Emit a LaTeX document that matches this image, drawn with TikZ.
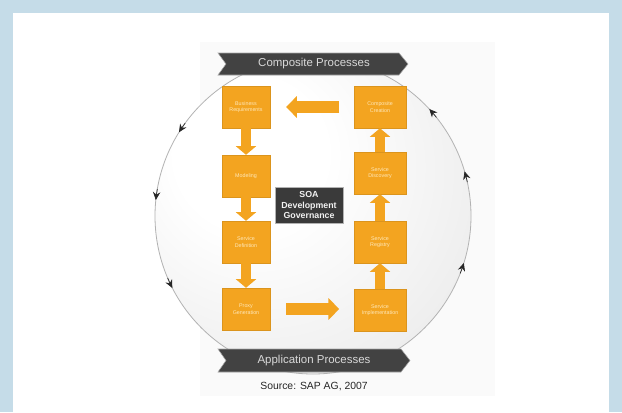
\documentclass[tikz,border=0pt]{standalone}
\usepackage{fontspec}
\setmainfont{Liberation Sans}
\usetikzlibrary{arrows.meta,calc}
\definecolor{bgblue}{RGB}{197,220,232}
\definecolor{diagbg}{RGB}{250,250,250}
\definecolor{orng}{RGB}{243,164,32}
\definecolor{boxtxt}{RGB}{255,232,185}
\definecolor{darkband}{RGB}{66,66,66}
\definecolor{soagray}{RGB}{58,58,58}
\pgfdeclareradialshading{softball}{\pgfpoint{-12bp}{12bp}}{%
  color(0bp)=(white); color(12bp)=(white); color(38bp)=(gray!16); color(56bp)=(gray!38); color(70bp)=(gray!45)}
\begin{document}
\begin{tikzpicture}[x=0.75pt,y=-0.75pt,
  box/.style={fill=orng, draw=orng!90!black, line width=0.3pt, minimum height=31.5pt,
    inner sep=1pt, align=center, text=boxtxt, font=\fontsize{4}{4.8}\selectfont},
  lbox/.style={box, minimum width=36pt},
  rbox/.style={box, minimum width=39pt},
  flow/.style={draw=orng, line width=7.5pt, -{Triangle[width=15pt,length=6.5pt]}},
  hflow/.style={draw=orng, line width=8.5pt, -{Triangle[width=16pt,length=8pt]}},
  band/.style={fill=darkband, draw=gray!70, line width=0.4pt},
  bandtext/.style={text=gray!30, font=\fontsize{8.6}{10}\selectfont},
  soabox/.style={fill=soagray, draw=gray!60, line width=0.4pt, minimum width=51pt,
    minimum height=27pt, align=center, text=gray!10, inner sep=1pt,
    font=\fontsize{6.6}{8}\selectfont\bfseries},
  circarr/.style={draw=gray!60, line width=0.5pt, -{Stealth[length=6pt,width=5.5pt]}, black!85}
]
\useasboundingbox (0,0) rectangle (622,412);
\fill[bgblue] (0,0) rectangle (622,412);
\fill[white] (13,13) rectangle (609,412);
\fill[diagbg] (200,42) rectangle (495,396);

% big circle
\coordinate (c) at (313,216);
\shade[shading=softball] (c) circle (158);
\draw[gray!60, line width=0.6pt] (c) circle (158);
\foreach \t in {321.4, 347.6, 21.3, 216, 189.8, 156.9}{
  \draw[circarr] ($(c)+(\t:158)$) arc[start angle=\t, end angle=\t-4, radius=158];
}

% banners
\path[band] (218,53) -- (399,53) -- (408,64) -- (399,75) -- (218,75) -- (226,64) -- cycle;
\node[bandtext] (topband) at (314,64) {Composite Processes};
\path[band] (218,349) -- (401,349) -- (410,360.5) -- (401,372) -- (218,372) -- (226,360.5) -- cycle;
\node[bandtext] (botband) at (314,361) {Application Processes};

% boxes
\node[lbox] (L1) at (246,107) {Business\\Requirements};
\node[lbox] (L2) at (246,176) {Modeling};
\node[lbox] (L3) at (246,242) {Service\\Definition};
\node[lbox] (L4) at (246,309) {Proxy\\Generation};
\node[rbox] (R1) at (380,107) {Composite\\Creation};
\node[rbox] (R2) at (380,173) {Service\\Discovery};
\node[rbox] (R3) at (380,242) {Service\\Registry};
\node[rbox] (R4) at (380,310) {Service\\Implementation};

\node[soabox] (soa) at (309,205) {SOA\\Development\\Governance};

% flow arrows
\draw[flow] (L1) -- (L2);
\draw[flow] (L2) -- (L3);
\draw[flow] (L3) -- (L4);
\draw[flow] (R4) -- (R3);
\draw[flow] (R3) -- (R2);
\draw[flow] (R2) -- (R1);
\draw[hflow, shorten <=11pt, shorten >=12pt] (R1) -- (L1);
\draw[hflow, shorten <=12pt, shorten >=11pt] (L4) -- (L4 -| R4.west);

\node[font=\fontsize{7.8}{9}\selectfont, text=black!85] (src) at (314,387) {Source: SAP AG, 2007};
\end{tikzpicture}
\end{document}
